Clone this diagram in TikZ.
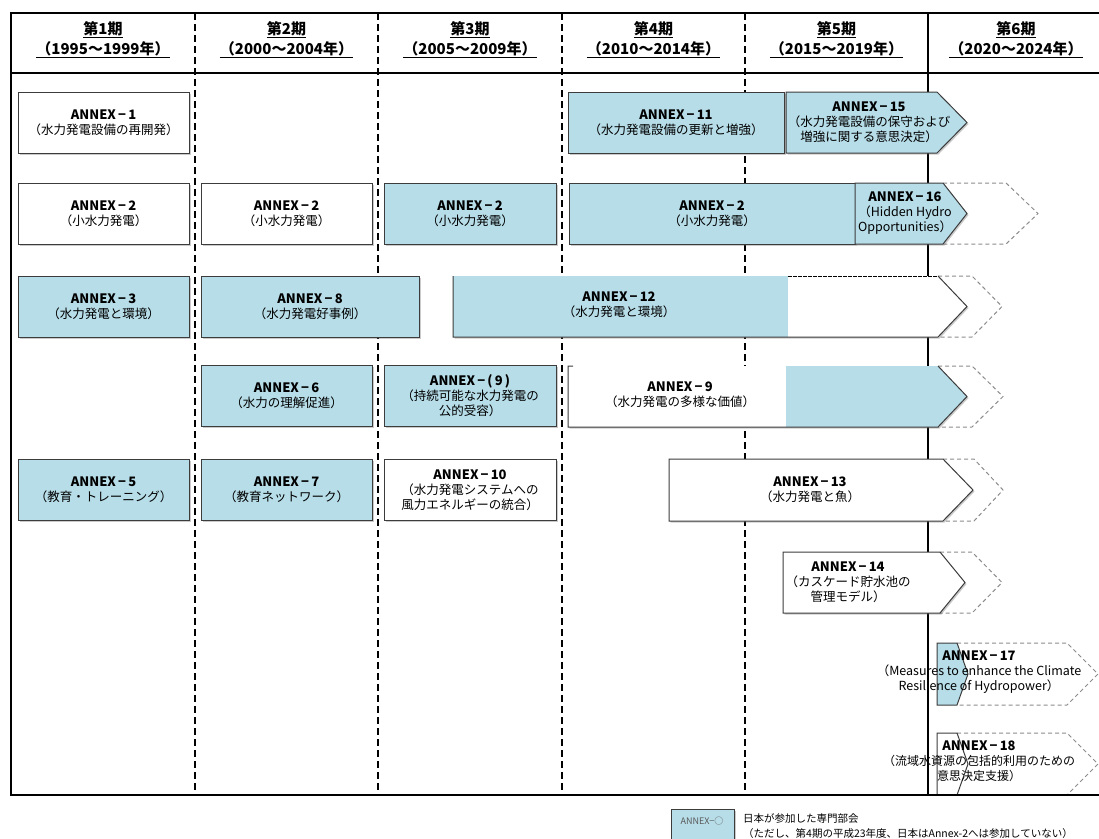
\documentclass[tikz,border=0pt]{standalone}
\usepackage{fontspec}
\setmainfont{Noto Sans CJK JP}
\usetikzlibrary{shadows}
\definecolor{annexblue}{RGB}{183,221,232}
\definecolor{boxgray}{RGB}{60,60,60}
\tikzstyle{frm}=[line width=1.8pt]
\tikzstyle{sep}=[line width=1.4pt, dash pattern=on 7pt off 4pt]
\tikzstyle{shd}=[drop shadow={shadow xshift=1.5pt, shadow yshift=-1.5pt, opacity=0.35, fill=black!60}]
\tikzstyle{box}=[draw=boxgray, line width=1pt, fill=white, minimum height=61pt, inner sep=0pt, align=center, shd, font=\fontsize{12.5}{15}\selectfont]
\tikzstyle{arw}=[draw=boxgray, line width=1pt]
\tikzstyle{txt}=[align=center, inner sep=0pt, font=\fontsize{12.5}{15}\selectfont]
\tikzstyle{fut}=[draw=black!45, line width=1pt, dash pattern=on 4pt off 3pt]
\tikzstyle{hdr}=[align=center, inner sep=0pt, font=\fontsize{15}{20}\selectfont\bfseries]
\newcommand{\annex}[1]{{\fontsize{13}{15}\selectfont\bfseries ANNEX\,−\,#1}}

\begin{document}
\begin{tikzpicture}[x=1pt, y=-1pt]
	\useasboundingbox (0,0) rectangle (1099,838);
	% period columns
	\foreach \x in {195,378,562,745}
	{
		\draw[sep] (\x,13) -- (\x,795);
	}
	\draw[line width=1.5pt] (928,13) -- (928,795);
	\foreach \n/\x/\yr in {1/103/1995～1999, 2/286.5/2000～2004, 3/470/2005～2009, 4/653.5/2010～2014, 5/836.5/2015～2019, 6/1016/2020～2024}
	{
		\node[hdr] (h\n) at (\x,40) {\underline{第\n 期}\\\underline{（\yr 年）}};
	}
	% continuing (dashed) arrows
	\foreach \xa/\xb/\xc/\ya/\yb/\yc in {943/1006/1038/183/213.5/244, 938/972/1002/276/306.5/337, 938/972/1003/366/396.5/427, 943/974/1003/459/490/521, 940/972/1002/552/582.5/613, 957/1067/1098/643/674/705, 957/1067/1098/733/764/795}
	{
		\draw[fut] (\xa,\ya) -- (\xb,\ya) -- (\xc,\yb) -- (\xb,\yc) -- (\xa,\yc);
	}

	% row 1
	\node[box, minimum width=171pt] (a1) at (103.5,122.5) {\annex{1}\\（水力発電設備の再開発）};
	\node[box, fill=annexblue, minimum width=216pt] (a11) at (676,122.5) {\annex{11}\\（水力発電設備の更新と増強）};
	\draw[arw, fill=annexblue, shd] (786,92) -- (937,92) -- (967,122.5) -- (937,153) -- (786,153) -- cycle;
	\node[txt] (a15) at (869,122.5) {\annex{15}\\（水力発電設備の保守および\\増強に関する意思決定）};

	% row 2
	\node[box, minimum width=171pt] (a2a) at (103.5,213.5) {\annex{2}\\（小水力発電）};
	\node[box, minimum width=171pt] (a2b) at (286.5,213.5) {\annex{2}\\（小水力発電）};
	\node[box, fill=annexblue, minimum width=172pt] (a2c) at (470,213.5) {\annex{2}\\（小水力発電）};
	\node[box, fill=annexblue, minimum width=286pt] (a2d) at (712,213.5) {\annex{2}\\（小水力発電）};
	\draw[arw, fill=annexblue, shd] (855,183) -- (943,183) -- (967,213.5) -- (943,244) -- (855,244) -- cycle;
	\node[txt] (a16) at (905,213.5) {\annex{16}\\（Hidden Hydro\\Opportunities）};

	% row 3
	\node[box, fill=annexblue, minimum width=171pt] (a3) at (103.5,306.5) {\annex{3}\\（水力発電と環境）};
	\node[box, fill=annexblue, minimum width=218pt] (a8) at (310,306.5) {\annex{8}\\（水力発電好事例）};
	\path[fill=white, shd] (453,276) -- (938,276) -- (967,306.5) -- (938,337) -- (453,337) -- cycle;
	\fill[annexblue] (453,276) rectangle (788,337);
	\draw[arw] (453,276) -- (453,337) -- (938,337) -- (967,306.5) -- (938,276);
	\draw[line width=1pt, dash pattern=on 4pt off 1pt] (788,276) -- (938,276);
	\node[txt] (a12) at (619,305) {\annex{12}\\（水力発電と環境）};

	% row 4
	\node[box, fill=annexblue, minimum width=171pt] (a6) at (286.5,396) {\annex{6}\\（水力の理解促進）};
	\node[box, fill=annexblue, minimum width=172pt] (a9p) at (470,396) {\annex{(\,9\,)}\\（持続可能な水力発電の\\公的受容）};
	\path[fill=white, shd] (568,366) -- (938,366) -- (967,396.5) -- (938,427) -- (568,427) -- cycle;
	\fill[annexblue] (786,366) -- (938,366) -- (967,396.5) -- (938,427) -- (786,427) -- cycle;
	\draw[arw] (573,366) -- (568,366) -- (568,427) -- (938,427) -- (967,396.5) -- (938,366);
	\node[txt] (a9) at (680,395) {\annex{9}\\（水力発電の多様な価値）};

	% row 5
	\node[box, fill=annexblue, minimum width=171pt] (a5) at (103.5,490) {\annex{5}\\（教育・トレーニング）};
	\node[box, fill=annexblue, minimum width=171pt] (a7) at (286.5,490) {\annex{7}\\（教育ネットワーク）};
	\node[box, minimum width=172pt] (a10) at (470,490) {\annex{10}\\（水力発電システムへの\\風力エネルギーの統合）};
	\draw[arw, fill=white, shd] (669,459) -- (943,459) -- (973,490) -- (943,521) -- (669,521) -- cycle;
	\node[txt] (a13) at (810,490) {\annex{13}\\（水力発電と魚）};

	% rows 6 to 8
	\draw[arw, fill=white, shd] (783,552) -- (940,552) -- (965,582.5) -- (940,613) -- (783,613) -- cycle;
	\node[txt] (a14) at (848,582.5) {\annex{14}\\（カスケード貯水池の\\管理モデル）};
	\draw[arw, fill=annexblue] (937,643) -- (957,643) -- (968,674) -- (957,705) -- (937,705) -- cycle;
	\node[txt] (a17) at (979,672) {\annex{17}\\（Measures to enhance the Climate\\Resilience of Hydropower）};
	\draw[arw, fill=white] (937,733) -- (957,733) -- (968,764) -- (957,795) -- (937,795) -- cycle;
	\node[txt, font=\fontsize{12}{15}\selectfont] (a18) at (979,761) {\annex{18}\\（流域水資源の包括的利用のための\\意思決定支援）};

	% frame
	\draw[frm] (1100,13) -- (11,13) -- (11,795) -- (1100,795);
	\draw[frm] (11,73) -- (1100,73);

	% legend
	\node[box, fill=annexblue, minimum width=63pt, minimum height=44pt, anchor=north west] (lg) at (671,809) {};
	\node[txt, font=\fontsize{9}{11}\selectfont, text=black!65] (lgt) at (702,821) {ANNEX−○};
	\node[txt, anchor=north west, align=left, font=\fontsize{10.5}{15}\selectfont] (lgd) at (743,813) {日本が参加した専門部会\\（ただし、第4期の平成23年度、日本はAnnex-2へは参加していない）};
\end{tikzpicture}
\end{document}
